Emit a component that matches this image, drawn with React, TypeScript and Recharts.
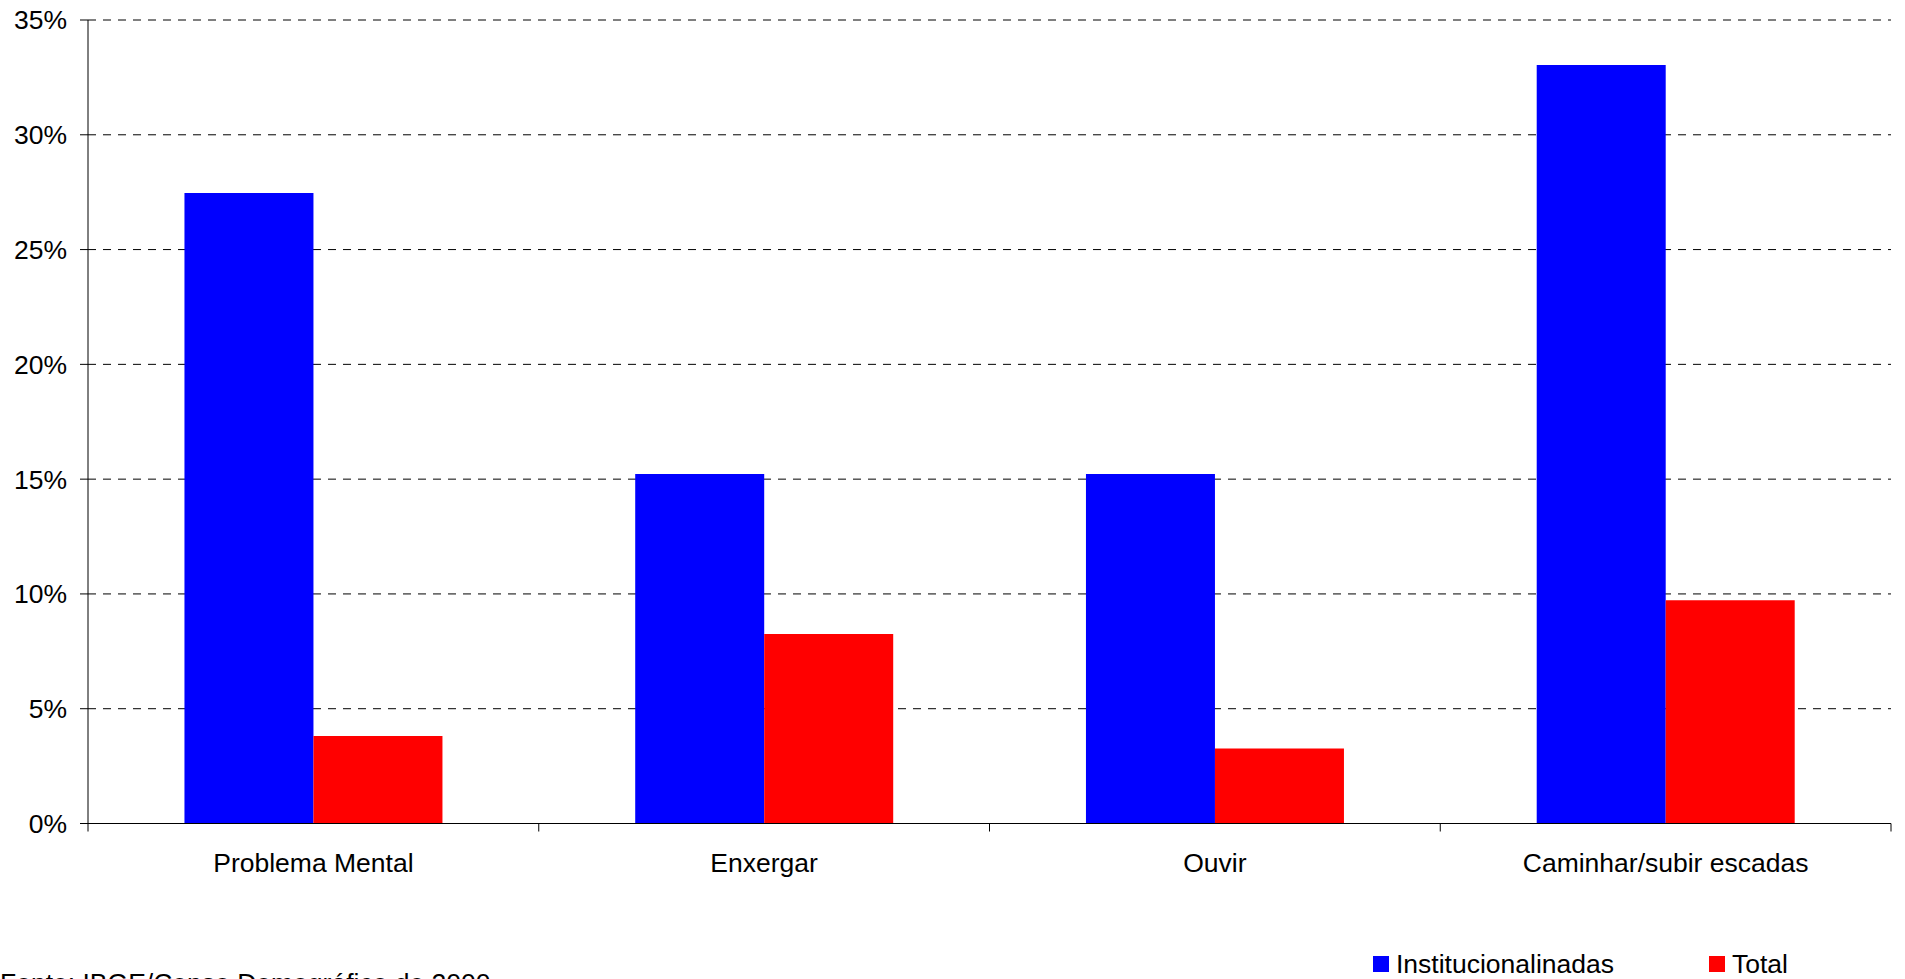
import { BarChart, Bar, XAxis, YAxis, CartesianGrid } from 'recharts';

const categories = ['Problema Mental', 'Enxergar', 'Ouvir', 'Caminhar/subir escadas'];
const institucionalizadas = [27.46, 15.22, 15.22, 33.04];
const total = [3.81, 8.25, 3.27, 9.73];
const yTicks = [0, 5, 10, 15, 20, 25, 30, 35];

const seriesNames = ['Institucionalinadas', 'Total'];
const seriesColors = ['#0000FF', '#FF0000'];

const data = categories.map((name, i) => ({
  name,
  inst: institucionalizadas[i],
  total: total[i],
}));

const W = 1905;
const H = 979;
const LEFT = 88;
const RIGHT = 14;
const FONT = '"Liberation Sans", Arial, sans-serif';
const FS = 26.5;
const band = (W - LEFT - RIGHT) / categories.length;

// Excel style: tick marks on category boundaries, label in the middle
function CategoryTick(props: any) {
  const { x, y, payload, index } = props;
  const half = band / 2;
  return (
    <g>
      <line x1={x - half} x2={x - half} y1={y} y2={y + 8} stroke="#000" />
      {index === categories.length - 1 && (
        <line x1={x + half} x2={x + half} y1={y} y2={y + 8} stroke="#000" />
      )}
      <text x={x} y={y + 48} textAnchor="middle" fontSize={FS} fontFamily={FONT} fill="#000">
        {payload.value}
      </text>
    </g>
  );
}

export default function App() {
  return (
    <div style={{ position: 'absolute', left: 0, top: 0, width: W, height: H, overflow: 'hidden', background: '#fff', fontFamily: FONT }}>
      <BarChart
        width={W}
        height={H}
        data={data}
        margin={{ top: 20, right: RIGHT, left: 0, bottom: 95.5 }}
        barCategoryGap="21.4%"
        barGap={0}
      >
        <CartesianGrid vertical={false} stroke="#000" strokeDasharray="8 7" />
        <XAxis
          dataKey="name"
          height={60}
          axisLine={{ stroke: '#000' }}
          tickLine={false}
          tickSize={0}
          tickMargin={0}
          tick={<CategoryTick />}
          interval={0}
        />
        <YAxis
          width={LEFT}
          domain={[0, 35]}
          ticks={yTicks}
          interval={0}
          tickFormatter={(v: number) => `${v}%`}
          axisLine={{ stroke: '#000' }}
          tickLine={{ stroke: '#000' }}
          tickSize={8}
          tickMargin={13}
          tick={{ fontSize: FS, fontFamily: FONT, fill: '#000' }}
        />
        <Bar dataKey="inst" name={seriesNames[0]} fill={seriesColors[0]} isAnimationActive={false} />
        <Bar dataKey="total" name={seriesNames[1]} fill={seriesColors[1]} isAnimationActive={false} />
      </BarChart>

      {/* legend */}
      <div style={{ position: 'absolute', left: 1373, top: 951, height: 26, display: 'flex', alignItems: 'center', fontSize: FS, lineHeight: '26px', color: '#000' }}>
        <span style={{ width: 16, height: 16, background: seriesColors[0], display: 'inline-block' }} />
        <span style={{ marginLeft: 7 }}>{seriesNames[0]}</span>
      </div>
      <div style={{ position: 'absolute', left: 1709, top: 951, height: 26, display: 'flex', alignItems: 'center', fontSize: FS, lineHeight: '26px', color: '#000' }}>
        <span style={{ width: 16, height: 16, background: seriesColors[1], display: 'inline-block' }} />
        <span style={{ marginLeft: 7 }}>{seriesNames[1]}</span>
      </div>

      <div style={{ position: 'absolute', left: 0, top: 970, fontSize: FS, lineHeight: '26px', whiteSpace: 'nowrap', color: '#000' }}>
        Fonte: IBGE/Censo Demográfico de 2000
      </div>
    </div>
  );
}
